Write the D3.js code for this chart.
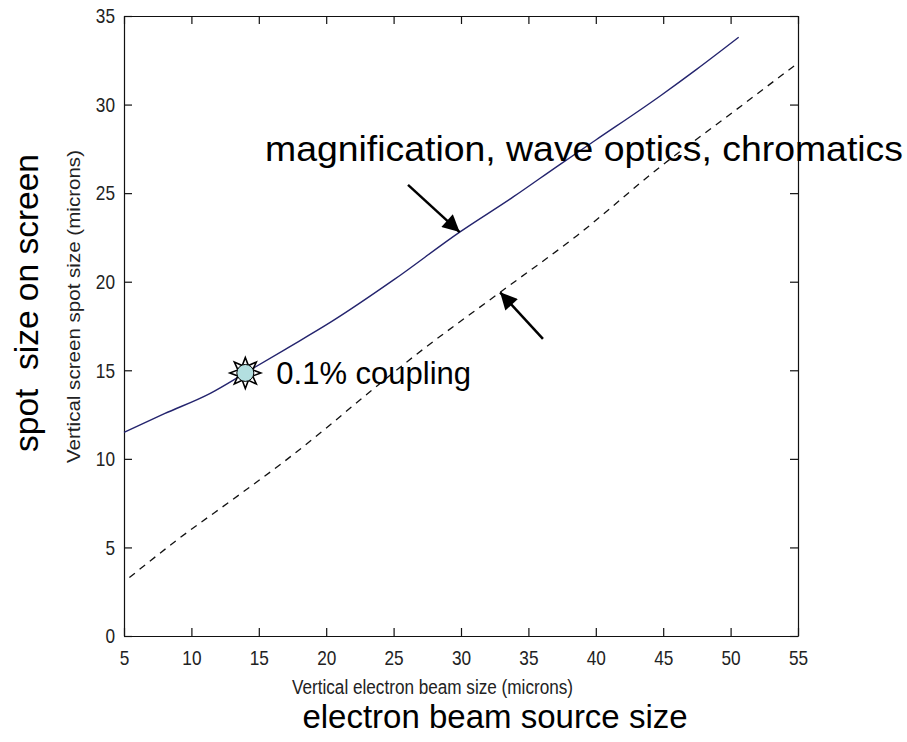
<!DOCTYPE html>
<html>
<head>
<meta charset="utf-8">
<script src="https://cdn.jsdelivr.net/npm/d3@7"></script>
<style>
  html, body { margin: 0; padding: 0; background: #fff; }
  svg { display: block; }
</style>
</head>
<body>
<svg id="chart" width="907" height="742"></svg>
<script>
// Spot size on screen versus vertical electron beam size (microns)

// Solid curve: magnification, wave optics, chromatics
const totalX = [5, 8, 11.4, 14, 17, 20.3, 25, 29.9, 33.9, 37.3, 40, 44.8, 47.5, 50.6];
const totalY = [11.5, 12.55, 13.7, 14.85, 16.2, 17.7, 20.1, 22.8, 24.8, 26.6, 28.0, 30.5, 32.0, 33.8];

// Dashed curve: magnification only
const magX = [5.4, 8.9, 13.6, 16.8, 20.1, 22.3, 26.7, 32.9, 38.6, 44.8, 49.7, 55];
const magY = [3.3, 5.4, 8.0, 9.8, 11.8, 13.2, 15.9, 19.4, 22.6, 26.5, 29.3, 32.35];

// Axis ticks
const xTicks = [5, 10, 15, 20, 25, 30, 35, 40, 45, 50, 55];
const yTicks = [0, 5, 10, 15, 20, 25, 30, 35];

// Operating point marked on the solid curve
const coupling = { x: 14, y: 14.85, label: "0.1% coupling" };

// Annotation arrows, [tail, tip] in data units
const arrowTotal = [[26.07, 25.47], [29.9, 22.8]];
const arrowMag = [[36.08, 16.77], [32.9, 19.4]];

const svg = d3.select("#chart");
const plotLeft = 124, plotRight = 798, plotTop = 16, plotBottom = 636;

const x = d3.scaleLinear().domain([5, 55]).range([plotLeft, plotRight]);
const y = d3.scaleLinear().domain([0, 35]).range([plotBottom, plotTop]);

const font = "'Liberation Sans', Arial, Helvetica, sans-serif";
const narrow = 0.82;   // horizontal squeeze for the axis lettering

// Axes with inward ticks on all four sides
const tickLen = 8;
const axB = svg.append("g").attr("transform", `translate(0,${plotBottom})`)
  .call(d3.axisBottom(x).tickValues(xTicks).tickSizeInner(-tickLen).tickSizeOuter(0).tickPadding(14).tickFormat(d3.format("d")));
const axT = svg.append("g").attr("transform", `translate(0,${plotTop})`)
  .call(d3.axisTop(x).tickValues(xTicks).tickSizeInner(-tickLen).tickSizeOuter(0).tickFormat(""));
const axL = svg.append("g").attr("transform", `translate(${plotLeft},0)`)
  .call(d3.axisLeft(y).tickValues(yTicks).tickSizeInner(-tickLen).tickSizeOuter(0).tickPadding(10).tickFormat(d3.format("d")));
const axR = svg.append("g").attr("transform", `translate(${plotRight},0)`)
  .call(d3.axisRight(y).tickValues(yTicks).tickSizeInner(-tickLen).tickSizeOuter(0).tickFormat(""));

[axB, axT, axL, axR].forEach(g => {
  g.select(".domain").attr("stroke", "#111").attr("stroke-width", 1.2);
  g.selectAll(".tick line").attr("stroke", "#111").attr("stroke-width", 1.2);
  g.selectAll(".tick text").attr("fill", "#222").style("font-family", font).style("font-size", "21px");
});
// squeeze tick numbers about their anchor points
axB.selectAll(".tick text").attr("transform", `scale(${narrow},1)`);
axL.selectAll(".tick text").attr("x", -9 / narrow).attr("transform", `scale(${narrow},1)`);

// Axis titles (small)
svg.append("text")
  .attr("x", 292).attr("y", 694)
  .attr("textLength", 281).attr("lengthAdjust", "spacingAndGlyphs")
  .style("font-family", font).style("font-size", "20px").attr("fill", "#222")
  .text("Vertical electron beam size (microns)");

svg.append("text")
  .attr("transform", "translate(80,463) rotate(-90)")
  .attr("textLength", 313).attr("lengthAdjust", "spacingAndGlyphs")
  .style("font-family", font).style("font-size", "19px").attr("fill", "#222")
  .text("Vertical screen spot size (microns)");

// Axis titles (large)
svg.append("text")
  .attr("x", 495).attr("y", 728)
  .attr("text-anchor", "middle")
  .style("font-family", font).style("font-size", "33px").attr("fill", "#000")
  .text("electron beam source size");

svg.append("text")
  .attr("transform", "translate(38,303) rotate(-90)")
  .attr("text-anchor", "middle")
  .style("white-space", "pre")
  .style("font-family", font).style("font-size", "33.5px").attr("fill", "#000")
  .text("spot  size on screen");

// Curves
const line = d3.line().x(d => x(d[0])).y(d => y(d[1])).curve(d3.curveMonotoneX);

svg.append("path")
  .datum(magX.map((v, i) => [v, magY[i]]))
  .attr("d", line)
  .attr("fill", "none").attr("stroke", "#111").attr("stroke-width", 1.3)
  .attr("stroke-dasharray", "7,6");

svg.append("path")
  .datum(totalX.map((v, i) => [v, totalY[i]]))
  .attr("d", line)
  .attr("fill", "none").attr("stroke", "#24246e").attr("stroke-width", 1.4);

// Arrow heads
svg.append("defs").append("marker")
  .attr("id", "head")
  .attr("viewBox", "0 0 10 10")
  .attr("refX", 10).attr("refY", 5)
  .attr("markerUnits", "userSpaceOnUse")
  .attr("markerWidth", 20).attr("markerHeight", 17)
  .attr("orient", "auto")
  .append("path").attr("d", "M0,0 L10,5 L0,10 Z").attr("fill", "#000");

[arrowTotal, arrowMag].forEach(a => {
  svg.append("line")
    .attr("x1", x(a[0][0])).attr("y1", y(a[0][1]))
    .attr("x2", x(a[1][0])).attr("y2", y(a[1][1]))
    .attr("stroke", "#000").attr("stroke-width", 2.5)
    .attr("marker-end", "url(#head)");
});

svg.append("text")
  .attr("x", 265).attr("y", 161)
  .attr("textLength", 638).attr("lengthAdjust", "spacingAndGlyphs")
  .style("font-family", font).style("font-size", "35px").attr("fill", "#000")
  .text("magnification, wave optics, chromatics");

// Coupling marker: burst star with a filled disc
const cx = x(coupling.x), cy = y(coupling.y);
const starPts = d3.range(16).map(i => {
  const r = i % 2 === 0 ? 15.5 : 8;
  const a = i * Math.PI / 8 - Math.PI / 2;
  return [cx + r * Math.cos(a), cy + r * Math.sin(a)];
});
svg.append("polygon")
  .attr("points", starPts.map(p => p.join(",")).join(" "))
  .attr("fill", "#fff").attr("stroke", "#000").attr("stroke-width", 1.6);
svg.append("circle")
  .attr("cx", cx).attr("cy", cy).attr("r", 8.5)
  .attr("fill", "#b3dfe0").attr("stroke", "#000").attr("stroke-width", 1);

svg.append("text")
  .attr("x", cx + 31).attr("y", cy + 11)
  .style("font-family", font).style("font-size", "31px").attr("fill", "#000")
  .text(coupling.label);
</script>
</body>
</html>
